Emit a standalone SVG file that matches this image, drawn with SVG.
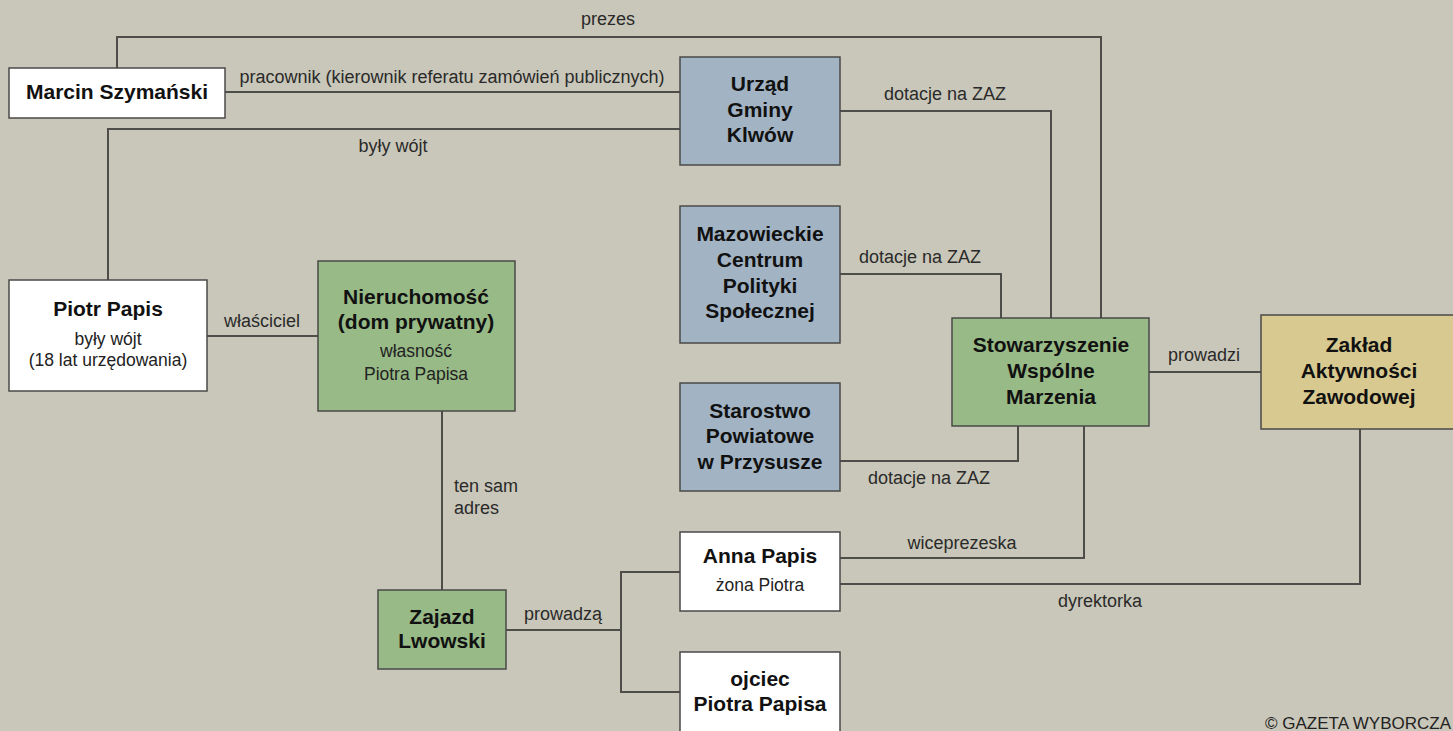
<svg xmlns="http://www.w3.org/2000/svg" width="1453" height="731" viewBox="0 0 1453 731">
<style>
.bg{fill:#c9c7b9}
.n{stroke:#4a4a48;stroke-width:1.5}
.w{fill:#ffffff}
.b{fill:#a2b4c4}
.g{fill:#98ba86}
.y{fill:#d7c98f}
.c{fill:none;stroke:#4d4d4a;stroke-width:2}
.t{font-family:"Liberation Sans",Arial,sans-serif;font-weight:bold;font-size:21px;fill:#111;text-anchor:middle;dominant-baseline:central}
.s{font-family:"Liberation Sans",Arial,sans-serif;font-size:17.5px;fill:#222;text-anchor:middle;dominant-baseline:central}
.l{font-family:"Liberation Sans",Arial,sans-serif;font-size:18px;fill:#2a2a2a;text-anchor:middle;dominant-baseline:central}
</style>
<rect class="bg" x="0" y="0" width="1453" height="731"/>
<g id="connectors">
<polyline class="c" points="117,68 117,37 1101,37 1101,318"/>
<polyline class="c" points="225,92 680,92"/>
<polyline class="c" points="680,129 108,129 108,280"/>
<polyline class="c" points="840,111 1051,111 1051,318"/>
<polyline class="c" points="840,274 1001,274 1001,318"/>
<polyline class="c" points="840,461 1018,461 1018,426"/>
<polyline class="c" points="1149,372 1261,372"/>
<polyline class="c" points="1084,426 1084,558 840,558"/>
<polyline class="c" points="1360,429 1360,584 840,584"/>
<polyline class="c" points="207,336 318,336"/>
<polyline class="c" points="442,411 442,590"/>
<polyline class="c" points="506,630 621,630"/>
<polyline class="c" points="680,572 621,572 621,692 680,692"/>
<text class="l" x="608" y="19">prezes</text>
<text class="l" x="452" y="77">pracownik (kierownik referatu zamówień publicznych)</text>
<text class="l" x="393" y="146">były wójt</text>
<text class="l" x="945" y="94">dotacje na ZAZ</text>
<text class="l" x="920" y="257">dotacje na ZAZ</text>
<text class="l" x="929" y="478">dotacje na ZAZ</text>
<text class="l" x="262" y="321">właściciel</text>
<text class="l" x="454" y="486" style="text-anchor:start">ten sam</text>
<text class="l" x="454" y="508" style="text-anchor:start">adres</text>
<text class="l" x="563" y="614">prowadzą</text>
<text class="l" x="962" y="543">wiceprezeska</text>
<text class="l" x="1100" y="601">dyrektorka</text>
<text class="l" x="1204" y="355">prowadzi</text>
</g>
<g id="marcin">
<rect class="n w" x="9" y="68" width="216" height="50"/>
<text class="t" x="117" y="91">Marcin Szymański</text>
</g>
<g id="urzad">
<rect class="n b" x="680" y="57" width="160" height="108"/>
<text class="t" x="760" y="83">Urząd</text>
<text class="t" x="760" y="109">Gminy</text>
<text class="t" x="760" y="134">Klwów</text>
</g>
<g id="mazowieckie">
<rect class="n b" x="680" y="206" width="160" height="137"/>
<text class="t" x="760" y="233">Mazowieckie</text>
<text class="t" x="760" y="259">Centrum</text>
<text class="t" x="760" y="285">Polityki</text>
<text class="t" x="760" y="310">Społecznej</text>
</g>
<g id="starostwo">
<rect class="n b" x="680" y="383" width="160" height="108"/>
<text class="t" x="760" y="410">Starostwo</text>
<text class="t" x="760" y="435">Powiatowe</text>
<text class="t" x="760" y="461">w Przysusze</text>
</g>
<g id="stowarzyszenie">
<rect class="n g" x="952" y="318" width="197" height="108"/>
<text class="t" x="1051" y="344">Stowarzyszenie</text>
<text class="t" x="1051" y="370">Wspólne</text>
<text class="t" x="1051" y="396">Marzenia</text>
</g>
<g id="zaklad">
<rect class="n y" x="1261" y="315" width="200" height="114"/>
<text class="t" x="1359" y="344">Zakład</text>
<text class="t" x="1359" y="370">Aktywności</text>
<text class="t" x="1359" y="396">Zawodowej</text>
</g>
<g id="piotr">
<rect class="n w" x="9" y="280" width="198" height="111"/>
<text class="t" x="108" y="308">Piotr Papis</text>
<text class="s" x="108" y="339">były wójt</text>
<text class="s" x="108" y="360">(18 lat urzędowania)</text>
</g>
<g id="nieruchomosc">
<rect class="n g" x="318" y="261" width="197" height="150"/>
<text class="t" x="416" y="296">Nieruchomość</text>
<text class="t" x="416" y="321">(dom prywatny)</text>
<text class="s" x="416" y="351">własność</text>
<text class="s" x="416" y="374">Piotra Papisa</text>
</g>
<g id="zajazd">
<rect class="n g" x="378" y="590" width="128" height="79"/>
<text class="t" x="442" y="616">Zajazd</text>
<text class="t" x="442" y="640">Lwowski</text>
</g>
<g id="anna">
<rect class="n w" x="680" y="532" width="160" height="79"/>
<text class="t" x="760" y="555">Anna Papis</text>
<text class="s" x="760" y="585">żona Piotra</text>
</g>
<g id="ojciec">
<rect class="n w" x="680" y="652" width="160" height="90"/>
<text class="t" x="760" y="678">ojciec</text>
<text class="t" x="760" y="703">Piotra Papisa</text>
</g>
<text x="1265" y="729" style="font-family:'Liberation Sans',Arial,sans-serif;font-size:17px;fill:#222">©  GAZETA WYBORCZA</text>
</svg>
